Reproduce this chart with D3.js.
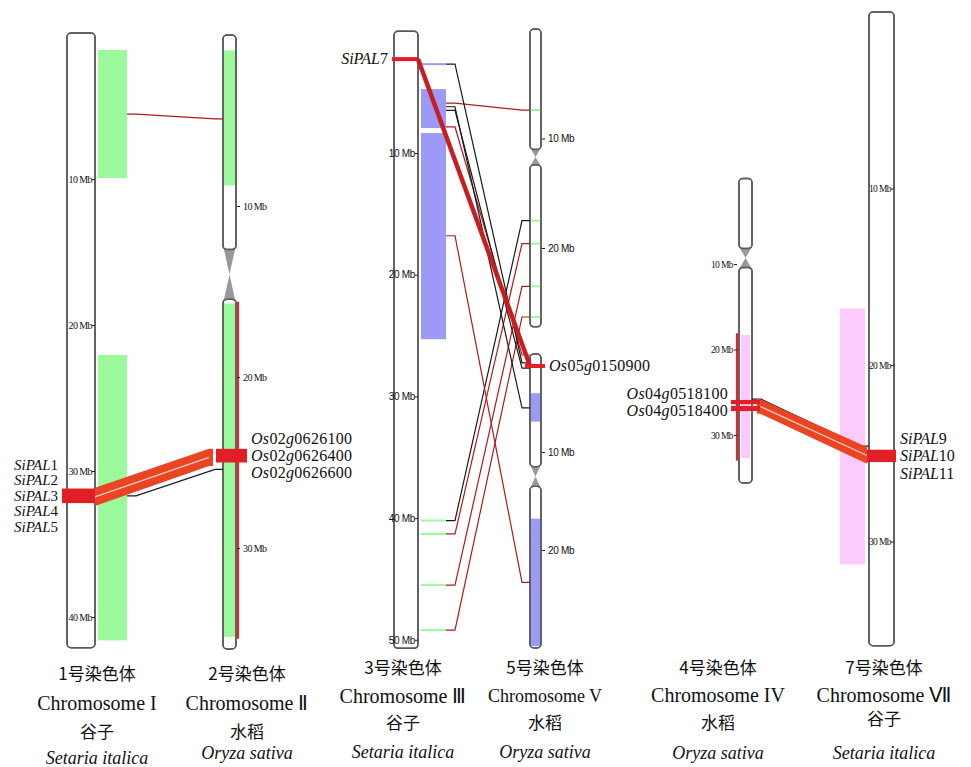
<!DOCTYPE html>
<html>
<head>
<meta charset="utf-8">
<script src="https://cdn.jsdelivr.net/npm/d3@7"></script>
<style>
  body { margin: 0; background: #fff; }
  svg { display: block; }
</style>
</head>
<body>
<svg id="chart" width="971" height="767"></svg>
<script>
// ---- data (positions in Mb) ----
const chromIds = ['I', 'II', 'III', 'Va', 'V', 'IV', 'VII'];
const chromLengths = [42.1, 35.9, 50.7, 27.2, 30.0, 35.6, 35.9];
const centromereMid = [null, 14.0, null, 11.7, 12.5, 9.3, null];
const centromereHalf = [0, 1.45, 0, 0.7, 1.0, 1.1, 0];
const chromTicks = [[10, 20, 30, 40], [10, 20, 30], [10, 20, 30, 40, 50], [10, 20], [10, 20], [10, 20, 30], [10, 20, 30]];

// collinear blocks
const blockChrom = ['I', 'I', 'II', 'II', 'III', 'III', 'V', 'V', 'IV', 'VII'];
const blockStart = [1.16, 22.05, 0.9, 15.7, 4.75, 8.36, 4.0, 16.8, 18.3, 16.8];
const blockEnd = [9.93, 41.6, 8.8, 35.2, 7.95, 25.3, 6.9, 29.8, 32.7, 31.3];
const blockKind = ['green', 'green', 'green', 'green', 'blue', 'blue', 'blue', 'blue', 'pink', 'pink'];

// thin block marks
const markChrom = ['III', 'III', 'III', 'III', 'III', 'Va', 'Va', 'Va', 'Va', 'Va'];
const markPos = [2.7, 40.2, 41.3, 45.5, 49.2, 7.4, 17.5, 19.6, 23.5, 26.3];
const markKind = ['blue', 'green', 'green', 'green', 'green', 'green', 'green', 'green', 'green', 'green'];

// red duplication spans
const spanChrom = ['II', 'IV'];
const spanStart = [15.6, 18.1];
const spanEnd = [35.3, 33.0];

// PAL gene bars
const geneChrom = ['I', 'II', 'III', 'V', 'IV', 'IV', 'VII'];
const geneStart = [31.2, 24.2, 2.12, 1.05, 25.9, 26.6, 24.8];
const geneEnd = [32.2, 25.0, 2.45, 1.4, 26.4, 27.2, 25.5];

// gene labels
const labelChrom = ['I', 'II', 'III', 'V', 'IV', 'VII'];
const labelNames = [
  ['SiPAL1', 'SiPAL2', 'SiPAL3', 'SiPAL4', 'SiPAL5'],
  ['Os02g0626100', 'Os02g0626400', 'Os02g0626600'],
  ['SiPAL7'],
  ['Os05g0150900'],
  ['Os04g0518100', 'Os04g0518400'],
  ['SiPAL9', 'SiPAL10', 'SiPAL11']
];

// links
const linkFrom = ['I', 'I', 'I', 'III', 'III', 'III', 'III', 'III', 'III', 'III', 'III', 'III', 'III', 'III', 'IV', 'IV'];
const linkFromStart = [5.55, 31.7, 31.15, 2.28, 2.7, 5.9, 6.2, 6.5, 7.86, 16.8, 40.2, 41.3, 45.5, 49.2, 25.8, 25.8];
const linkFromEnd = [5.55, 31.7, 32.4, 2.28, 2.7, 5.9, 6.2, 6.5, 7.86, 16.8, 40.2, 41.3, 45.5, 49.2, 25.8, 27.5];
const linkTo = ['II', 'II', 'II', 'V', 'V', 'Va', 'V', 'V', 'V', 'V', 'Va', 'Va', 'Va', 'Va', 'VII', 'VII'];
const linkToStart = [4.9, 25.4, 24.2, 1.2, 0.9, 7.4, 5.5, 1.45, 0.1, 23.3, 17.5, 19.6, 23.5, 26.3, 24.6, 24.65];
const linkToEnd = [4.9, 25.4, 25.2, 1.2, 0.9, 7.4, 5.5, 1.45, 0.1, 23.3, 17.5, 19.6, 23.5, 26.3, 24.6, 25.6];
const linkKind = ['red', 'black', 'ribbon', 'thick', 'black', 'red', 'black', 'black', 'red', 'red', 'black', 'red', 'red', 'red', 'black', 'ribbon'];

// bottom captions
const captionCN = ['1号染色体', '2号染色体', '3号染色体', '5号染色体', '4号染色体', '7号染色体'];
const captionEN = ['Chromosome I', 'Chromosome Ⅱ', 'Chromosome Ⅲ', 'Chromosome V', 'Chromosome IV', 'Chromosome Ⅶ'];
const speciesCN = ['谷子', '水稻', '谷子', '水稻', '水稻', '谷子'];
const speciesLatin = ['Setaria italica', 'Oryza sativa', 'Setaria italica', 'Oryza sativa', 'Oryza sativa', 'Setaria italica'];

// ---- layout ----
const layout = {
  I:   {x: 67,  w: 28, y0: 33,   k: 14.6,  blockX: 98,  blockW: 29, out: 127, tick: 'in',    tf: 'Liberation Serif', ts: 10, gx: [62, 95]},
  II:  {x: 223, w: 13, y0: 35,   k: 17.1,  blockX: 224, blockW: 11, tick: 'right', tf: 'Liberation Serif', ts: 10, gx: [216, 247], span: 238},
  III: {x: 394, w: 24, y0: 31.3, k: 12.17, blockX: 421, blockW: 25, out: 446, tick: 'in',    tf: 'Liberation Sans Narrow, Liberation Sans', ts: 10, gx: [392, 418]},
  Va:  {x: 530, w: 11, y0: 29,   k: 10.95, blockX: 530, blockW: 11, tick: 'right', tf: 'Liberation Sans Narrow, Liberation Sans', ts: 10},
  V:   {x: 530, w: 11, y0: 354,  k: 9.8,   blockX: 531, blockW: 9,  tick: 'right', tf: 'Liberation Sans Narrow, Liberation Sans', ts: 10, gx: [525, 545]},
  IV:  {x: 739, w: 13, y0: 178.5, k: 8.55, blockX: 741, blockW: 9,  out: 752, tick: 'left',  tf: 'Liberation Serif', ts: 9.5, gx: [731, 760], span: 737},
  VII: {x: 869, w: 25, y0: 12,   k: 17.65, blockX: 840, blockW: 25, tick: 'in',    tf: 'Liberation Serif', ts: 9.5, gx: [867, 896]}
};
const colours = {green: '#9cfa9c', blue: '#9b9bf7', pink: '#fccafc', red: '#b01a1a', black: '#1a1a1a'};

const svg = d3.select('#chart');
const yScale = {};
chromIds.forEach((id, i) => {
  const L = layout[id];
  yScale[id] = d3.scaleLinear().domain([0, chromLengths[i]]).range([L.y0, L.y0 + chromLengths[i] * L.k]);
});

// blocks outside chromosomes first, chromosomes, then inner blocks
const gBlocksOut = svg.append('g');
const gChrom = svg.append('g');
const gBlocksIn = svg.append('g');
const gLinks = svg.append('g');
const gGenes = svg.append('g');
const gText = svg.append('g');

chromIds.forEach((id, i) => {
  const L = layout[id], y = yScale[id];
  const g = gChrom.append('g');
  const arms = [];
  if (centromereMid[i] === null) {
    arms.push([0, chromLengths[i]]);
  } else {
    arms.push([0, centromereMid[i] - centromereHalf[i]]);
    arms.push([centromereMid[i] + centromereHalf[i], chromLengths[i]]);
  }
  arms.forEach(a => {
    g.append('rect')
      .attr('x', L.x).attr('y', y(a[0]))
      .attr('width', L.w).attr('height', y(a[1]) - y(a[0]))
      .attr('rx', Math.min(4, L.w / 2)).attr('ry', 4)
      .attr('fill', '#fff').attr('stroke', '#5a5a5a').attr('stroke-width', 1.5)
      .attr('class', 'arm');
  });
  if (centromereMid[i] !== null) {
    const c = y(centromereMid[i]), a = y(centromereMid[i] - centromereHalf[i]), b = y(centromereMid[i] + centromereHalf[i]);
    g.append('path')
      .attr('d', `M${L.x + 1},${a}L${L.x + L.w - 1},${a}L${L.x + L.w / 2},${c}Z M${L.x + 1},${b}L${L.x + L.w - 1},${b}L${L.x + L.w / 2},${c}Z`)
      .attr('fill', '#999');
  }
});

blockChrom.forEach((id, i) => {
  const L = layout[id], y = yScale[id];
  const inside = L.blockX >= L.x && L.blockX < L.x + L.w;
  (inside ? gBlocksIn : gBlocksOut).append('rect')
    .attr('x', L.blockX).attr('y', y(blockStart[i]))
    .attr('width', L.blockW).attr('height', y(blockEnd[i]) - y(blockStart[i]))
    .attr('fill', colours[blockKind[i]]);
});

markChrom.forEach((id, i) => {
  const L = layout[id], y = yScale[id];
  gBlocksIn.append('line')
    .attr('x1', L.blockX).attr('x2', L.blockX + L.blockW)
    .attr('y1', y(markPos[i])).attr('y2', y(markPos[i]))
    .attr('stroke', colours[markKind[i]]).attr('stroke-width', 2);
});

// re-stroke chromosome outlines on top of the inner blocks
gChrom.selectAll('rect.arm').each(function () {
  const r = d3.select(this);
  gBlocksIn.append('rect')
    .attr('x', r.attr('x')).attr('y', r.attr('y'))
    .attr('width', r.attr('width')).attr('height', r.attr('height'))
    .attr('rx', r.attr('rx')).attr('ry', r.attr('ry'))
    .attr('fill', 'none').attr('stroke', '#5a5a5a').attr('stroke-width', 1.5);
});

spanChrom.forEach((id, i) => {
  const L = layout[id], y = yScale[id];
  gBlocksIn.append('line')
    .attr('x1', L.span).attr('x2', L.span)
    .attr('y1', y(spanStart[i])).attr('y2', y(spanEnd[i]))
    .attr('stroke', '#e8262a').attr('stroke-width', 2.2);
});

// ticks
chromIds.forEach((id, i) => {
  const L = layout[id], y = yScale[id];
  let axis, x;
  if (L.tick === 'in') { axis = d3.axisLeft(y).tickPadding(0); x = L.x + L.w; }
  else if (L.tick === 'left') { axis = d3.axisLeft(y).tickPadding(1); x = L.x - 2; }
  else { axis = d3.axisRight(y).tickPadding(3); x = L.x + L.w + 1; }
  axis.tickValues(chromTicks[i]).tickSize(3).tickFormat(d => d + ' Mb');
  const ga = svg.append('g').attr('transform', `translate(${x},0)`).call(axis);
  ga.select('.domain').remove();
  ga.selectAll('line').attr('stroke', '#222');
  ga.selectAll('text').attr('font-family', L.tf).attr('font-size', L.ts).attr('fill', '#111')
    .attr('letter-spacing', L.tf.startsWith('Liberation Serif') ? -0.6 : -0.3);
});

// links
const line = d3.line();
linkFrom.forEach((from, i) => {
  const A = layout[from], B = layout[linkTo[i]], ya = yScale[from], yb = yScale[linkTo[i]];
  const kind = linkKind[i];
  if (kind === 'ribbon') {
    const x1 = from === 'I' ? A.x + A.w : A.x + A.w + 5;
    const x2 = B.x - (linkTo[i] === 'II' ? 10 : 2);
    const s1 = from === 'I' ? 0 : 3, s2 = from === 'I' ? 4 : 0;
    const a1 = ya(linkFromStart[i]), b1 = ya(linkFromEnd[i]);
    const a2 = yb(linkToStart[i]), b2 = yb(linkToEnd[i]);
    gLinks.append('path')
      .attr('d', line([[x1, a1], [x1 + s1, a1], [x2 - s2, a2], [x2, a2], [x2, b2], [x2 - s2, b2], [x1 + s1, b1], [x1, b1]]) + 'Z')
      .attr('fill', '#ea4422');
    gLinks.append('path')
      .attr('d', line([[x1 + s1, (a1 + b1) / 2], [x2 - s2, (a2 + b2) / 2]]))
      .attr('stroke', '#fff').attr('stroke-opacity', 0.75).attr('stroke-width', 1.2).attr('fill', 'none');
  } else if (kind === 'thick') {
    gLinks.append('path')
      .attr('d', line([[A.x + A.w, ya(linkFromStart[i])], [B.x, yb(linkToStart[i])]]))
      .attr('stroke', '#c81e22').attr('stroke-width', 4.5).attr('fill', 'none');
  } else {
    const x1 = A.out, x2 = B.x;
    const y1 = ya(linkFromStart[i]), y2 = yb(linkToStart[i]);
    gLinks.insert('path', ':first-child')
      .attr('d', line([[x1, y1], [x1 + 9, y1], [x2 - 8, y2], [x2, y2]]))
      .attr('stroke', colours[kind]).attr('stroke-width', 1.2).attr('fill', 'none');
  }
});

// gene bars
geneChrom.forEach((id, i) => {
  const L = layout[id], y = yScale[id];
  const h = Math.max(4, y(geneEnd[i]) - y(geneStart[i]));
  gGenes.append('rect')
    .attr('x', L.gx[0]).attr('y', (y(geneStart[i]) + y(geneEnd[i])) / 2 - h / 2)
    .attr('width', L.gx[1] - L.gx[0]).attr('height', h)
    .attr('fill', '#e21f26');
});

// gene labels
function geneText(sel, name) {
  const m = name.match(/^(Os)(\d+)(g)(\d+)$/);
  const parts = m ? [[m[1], true], [m[2], false], [m[3], true], [m[4], false]]
                  : [[name.replace(/\d+$/, ''), true], [name.match(/\d+$/)[0], false]];
  parts.forEach(p => sel.append('tspan').attr('font-style', p[1] ? 'italic' : 'normal').text(p[0]));
}
labelChrom.forEach((id, i) => {
  const L = layout[id], y = yScale[id];
  const gi = geneChrom.indexOf(id);
  const centre = (y(geneStart[gi]) + y(geneEnd[gi])) / 2;
  const names = labelNames[i];
  const isOs = names[0].startsWith('Os');
  const step = isOs ? 16.8 : (id === 'I' ? 15.5 : 17.5);
  const size = isOs ? 16 : (id === 'I' ? 15 : 16);
  let x, anchor;
  if (id === 'I' || id === 'III') { x = L.gx[0] - 4; anchor = 'end'; }
  else if (id === 'IV') { x = L.gx[0] - 3; anchor = 'end'; }
  else { x = L.gx[1] + 4; anchor = 'start'; }
  names.forEach((n, j) => {
    const t = gText.append('text')
      .attr('x', x).attr('y', centre + (j - (names.length - 1) / 2) * step + size * 0.33)
      .attr('text-anchor', anchor)
      .attr('font-family', 'Liberation Serif').attr('font-size', size).attr('fill', '#111')
      .attr('letter-spacing', isOs ? 0.3 : 0);
    geneText(t, n);
  });
});

// captions
const colX = [97, 247, 403, 545, 718, 884];
const rowY = [[680, 710, 738, 764], [680, 710, 738, 759], [674, 703, 729, 758], [674, 702, 729, 758], [674, 702, 729, 759], [674, 702, 725, 759]];
captionCN.forEach((c, i) => {
  const g = gText.append('g').attr('text-anchor', 'middle').attr('fill', '#111');
  g.append('text').attr('x', colX[i]).attr('y', rowY[i][0])
    .attr('font-family', 'Noto Sans CJK SC').attr('font-size', 17).text(c);
  g.append('text').attr('x', colX[i]).attr('y', rowY[i][1])
    .attr('font-family', 'Liberation Serif').attr('font-size', i === 3 ? 18 : 20).text(captionEN[i]);
  g.append('text').attr('x', colX[i]).attr('y', rowY[i][2])
    .attr('font-family', 'Noto Sans CJK SC').attr('font-size', 17).text(speciesCN[i]);
  g.append('text').attr('x', colX[i]).attr('y', rowY[i][3])
    .attr('font-family', 'Liberation Serif').attr('font-style', 'italic').attr('font-size', 18).text(speciesLatin[i]);
});
</script>
</body>
</html>
